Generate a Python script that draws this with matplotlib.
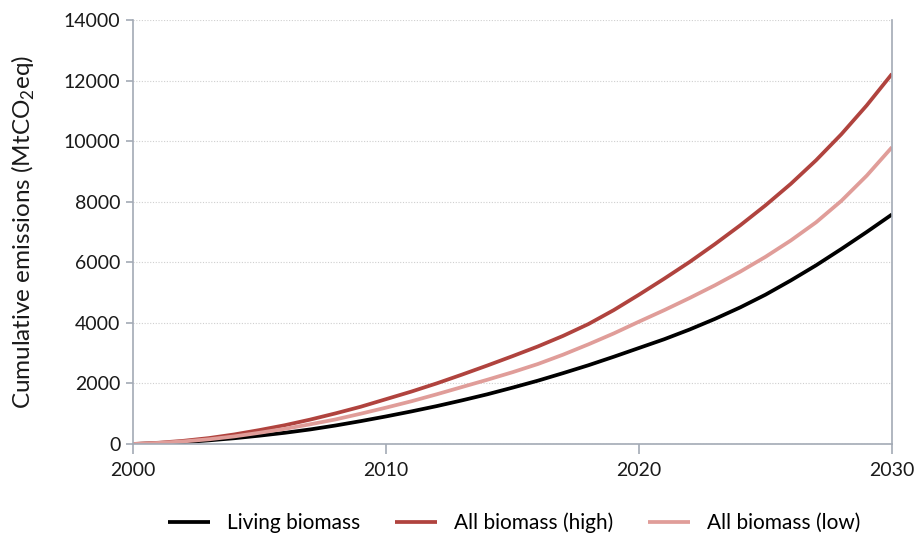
import matplotlib
matplotlib.use("Agg")
import matplotlib.pyplot as plt

# values (cumulative emissions, MtCO2eq)
years = list(range(2000, 2031))

living = [0, 20, 60, 120, 190, 275, 370, 480, 610, 755,
          910, 1075, 1250, 1440, 1640, 1860, 2090, 2340, 2600, 2880,
          3170, 3460, 3780, 4130, 4510, 4930, 5400, 5900, 6440, 7000,
          7580]

high = [0, 40, 105, 195, 315, 460, 620, 805, 1010, 1230,
        1480, 1730, 2000, 2290, 2590, 2900, 3220, 3570, 3960, 4420,
        4930, 5460, 6010, 6600, 7220, 7880, 8590, 9370, 10230, 11180,
        12220]

low = [0, 35, 85, 155, 250, 370, 500, 650, 810, 1000,
       1200, 1410, 1640, 1880, 2120, 2370, 2640, 2950, 3290, 3650,
       4040, 4420, 4820, 5240, 5690, 6180, 6720, 7320, 8030, 8860,
       9800]

labels = ["Living biomass", "All biomass (high)", "All biomass (low)"]
colors = ["#000000", "#b0433e", "#e09d99"]

plt.rcParams['font.family'] = ['Lato', 'DejaVu Sans']

fig = plt.figure(figsize=(9.18, 5.4), dpi=100)
ax = fig.add_axes([0.1449, 0.1778, 0.8268, 0.7852])

for vals, lab, col in zip([living, high, low], labels, colors):
	ax.plot(years, vals, color=col, lw=2.7, label=lab, solid_capstyle='butt')

ax.set_xlim(2000, 2030)
ax.set_ylim(0, 14000)
ax.set_xticks([2000, 2010, 2020, 2030])
ax.set_yticks(range(0, 14001, 2000))

ax.yaxis.grid(True, linestyle=(0, (1, 1.5)), color='#cfcfcf', lw=0.8)
ax.set_axisbelow(True)

spine_col = '#a3aab5'
ax.spines['top'].set_visible(False)
for s in ['left', 'bottom', 'right']:
	ax.spines[s].set_color(spine_col)
	ax.spines[s].set_linewidth(1.2)

ax.tick_params(axis='both', colors=spine_col, labelcolor='#1a1a1a', labelsize=14, width=1.2)
ax.tick_params(axis='y', length=5, pad=4)
ax.tick_params(axis='x', length=7, pad=6)

ax.set_ylabel(r'Cumulative emissions (MtCO$_\mathregular{2}$eq)', fontsize=17.5, color='#1a1a1a', labelpad=19)

fig.legend(loc='lower center', ncol=3, frameon=False, fontsize=15,
           handlelength=2.0, columnspacing=1.7, bbox_to_anchor=(0.56, -0.022))

fig.savefig('out.png', dpi=100)
